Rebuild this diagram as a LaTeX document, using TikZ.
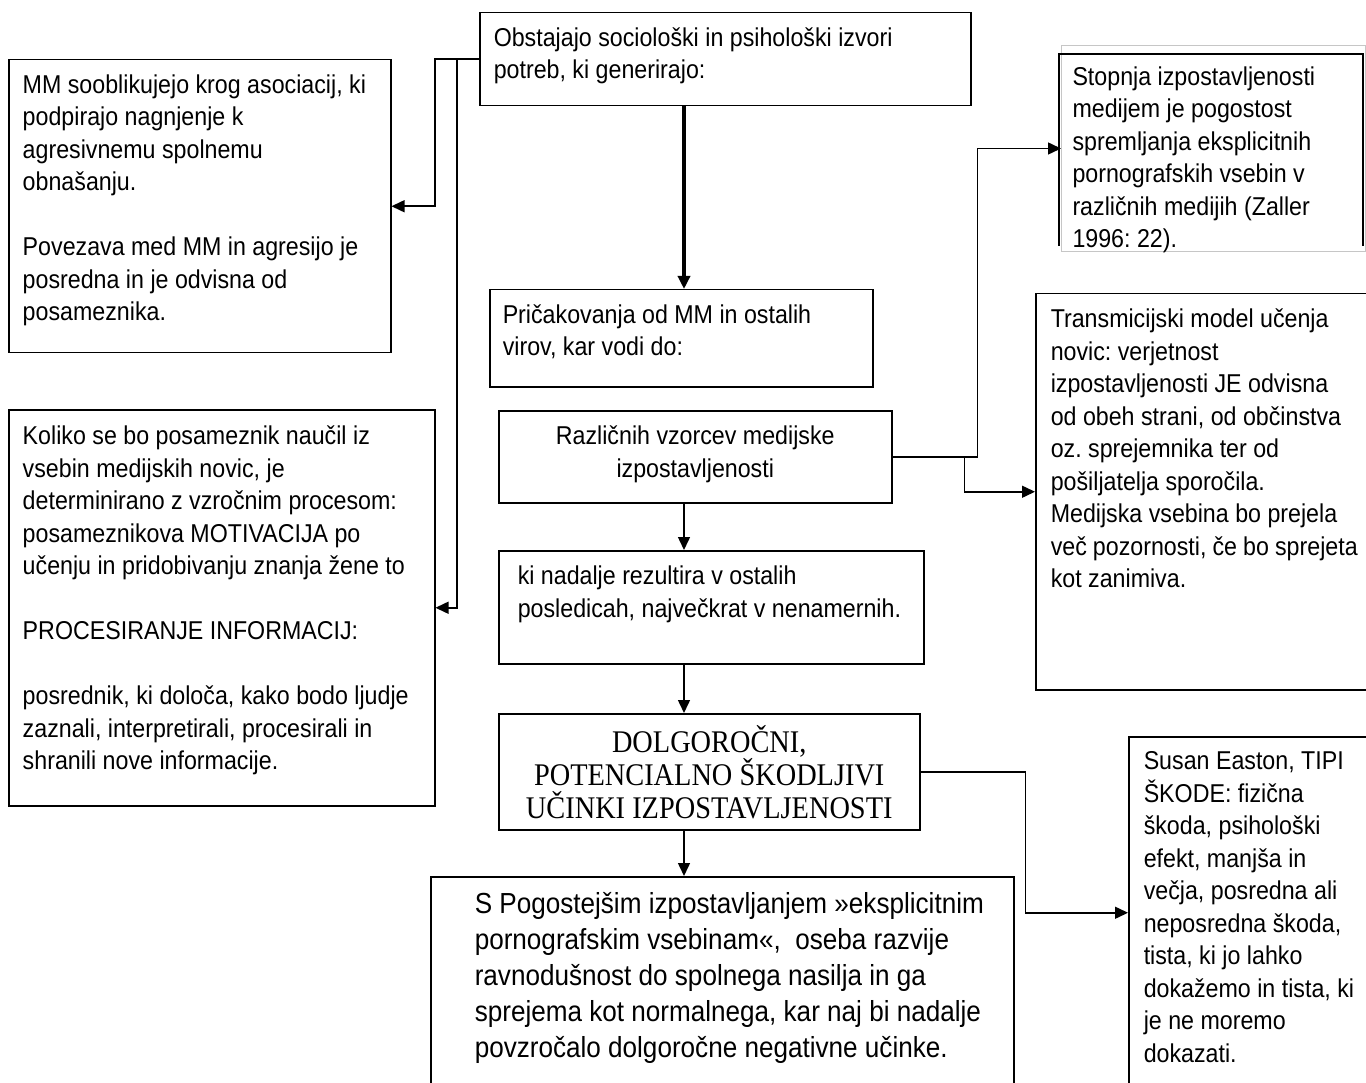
\documentclass[tikz,border=0pt]{standalone}
\usepackage{fontspec}
\newfontfamily\boxsans[FakeStretch=0.9]{Liberation Sans}
\newfontfamily\boxserif[FakeStretch=0.9]{Liberation Serif}
\usetikzlibrary{arrows.meta, calc}
\newcommand{\boxtext}[3]{\parbox[c][#2][t]{#1}{\raggedright\strut #3}}
\frenchspacing

\begin{document}
\begin{tikzpicture}[x=1pt, y=-1pt]
    \tikzset{
        text box/.style={draw, line width=1.5pt, anchor=north west, inner xsep=14pt, inner ysep=11pt, font=\boxsans\fontsize{25.8}{32.5}\selectfont},
        big box/.style={text box, font=\boxsans\fontsize{29}{36}\selectfont},
        serif box/.style={draw, line width=1.5pt, anchor=north west, align=center, inner sep=0pt, font=\boxserif\fontsize{31.5}{33}\selectfont},
        flow/.style={line width=1.5pt, -{Triangle[length=13pt, width=12pt]}},
        main flow/.style={flow, line width=3.5pt}
      }
\useasboundingbox (0,0) rectangle (1366,1083);
\coordinate (spine) at (684,0);

\node[text box] (src) at (479,12) {\boxtext{463pt}{71pt}{Obstajajo sociološki in psihološki izvori\\potreb, ki generirajo:}};

\node[text box] (mm) at (8,59) {\boxtext{354pt}{271pt}{MM sooblikujejo krog asociacij, ki\\podpirajo nagnjenje k\\agresivnemu spolnemu\\obnašanju.\\[\baselineskip]Povezava med MM in agresijo je\\posredna in je odvisna od\\posameznika.}};

\node[text box, inner ysep=12pt] (koliko) at (8,409) {\boxtext{398pt}{372pt}{Koliko se bo posameznik naučil iz\\vsebin medijskih novic, je\\determinirano z vzročnim procesom:\\posameznikova MOTIVACIJA po\\učenju in pridobivanju znanja žene to\\[\baselineskip]PROCESIRANJE INFORMACIJ:\\[\baselineskip]posrednik, ki določa, kako bodo ljudje\\zaznali, interpretirali, procesirali in\\shranili nove informacije.}};

\node[text box, inner xsep=13pt] (pric) at (489,289) {\boxtext{357pt}{75pt}{Pričakovanja od MM in ostalih\\virov, kar vodi do:}};

\node[text box] (razl) at (498,410) {\boxtext{365pt}{70pt}{\centering Različnih vzorcev medijske\\izpostavljenosti}};

\node[text box, inner xsep=19pt] (ki) at (498,550) {\boxtext{387pt}{91pt}{ki nadalje rezultira v ostalih\\posledicah, največkrat v nenamernih.}};

\node[serif box, minimum width=421pt, minimum height=116pt] (dolg) at (498,713) {DOLGOROČNI,\\POTENCIALNO ŠKODLJIVI\\UČINKI IZPOSTAVLJENOSTI};

\node[big box, inner xsep=0pt, inner ysep=12pt] (pogo) at (430,876) {\boxtext{583pt}{190pt}{\leftskip=44pt S Pogostejšim izpostavljanjem »eksplicitnim\\pornografskim vsebinam«,\ \ oseba razvije\\ravnodušnost do spolnega nasilja in ga\\sprejema kot normalnega, kar naj bi nadalje\\povzročalo dolgoročne negativne učinke.}};

\node[text box, draw=gray!45, line width=1pt, inner xsep=11pt, inner ysep=17pt] (stop) at (1061,45) {\boxtext{282pt}{172pt}{Stopnja izpostavljenosti\\medijem je pogostost\\spremljanja eksplicitnih\\pornografskih vsebin v\\različnih medijih (Zaller\\1996: 22).}};
\draw[line width=1.5pt] ($(stop.south west)+(-2,-6)$) |- ($(stop.north west)+(-2,9)$) -| ($(stop.south east)+(-3,-6)$);

\node[text box, inner xsep=15pt] (trans) at (1035,293) {\boxtext{307pt}{374pt}{Transmicijski model učenja\\novic: verjetnost\\izpostavljenosti JE odvisna\\od obeh strani, od občinstva\\oz. sprejemnika ter od\\pošiljatelja sporočila.\\Medijska vsebina bo prejela\\več pozornosti, če bo sprejeta\\kot zanimiva.}};

\node[text box, inner xsep=15pt, inner ysep=10pt] (susan) at (1128,736) {\boxtext{214pt}{332pt}{Susan Easton, TIPI\\ŠKODE: fizična\\škoda, psihološki\\efekt, manjša in\\večja, posredna ali\\neposredna škoda,\\tista, ki jo lahko\\dokažemo in tista, ki\\je ne moremo\\dokazati.}};

\draw[main flow] (src.south -| spine) -- (pric.north -| spine);
\draw[flow] (razl.south -| spine) -- (ki.north -| spine);
\draw[flow] (ki.south -| spine) -- (dolg.north -| spine);
\draw[flow] (dolg.south -| spine) -- (pogo.north -| spine);

\draw[flow] (src.west) -- ++(-44,0) |- (mm.east);
\draw[flow] (src.west) -- ++(-22,0) |- (koliko.east);

\draw[flow] (razl.east) -- ++(85,0) |- (stop.west);
\draw[flow] (razl.east) -- ++(72,0) |- (trans.west);

\draw[flow] (dolg.east) -- ++(105,0) |- (susan.west);
\end{tikzpicture}
\end{document}
